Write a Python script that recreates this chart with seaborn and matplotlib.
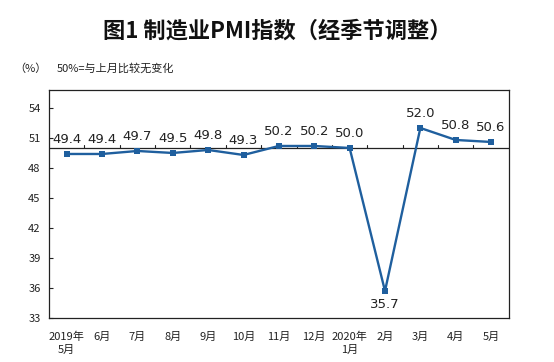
import matplotlib
matplotlib.use("Agg")
import matplotlib.pyplot as plt
import seaborn as sns
import pandas as pd

months = ["2019年\n5月", "6月", "7月", "8月", "9月", "10月", "11月", "12月",
          "2020年\n1月", "2月", "3月", "4月", "5月"]
pmi = [49.4, 49.4, 49.7, 49.5, 49.8, 49.3, 50.2, 50.2, 50.0, 35.7, 52.0, 50.8, 50.6]
yticks = [33, 36, 39, 42, 45, 48, 51, 54]

sns.set_theme(style="white")
plt.rcParams['font.family'] = ['Noto Sans CJK SC', 'DejaVu Sans']

df = pd.DataFrame({"idx": range(len(months)), "pmi": pmi})

fig = plt.figure(figsize=(5.54, 3.62), dpi=100)
ax = fig.add_axes([0.0884, 0.1215, 0.830, 0.630])
color = "#1f5f9e"
sns.lineplot(data=df, x="idx", y="pmi", ax=ax, color=color, marker="s",
             markersize=4, markeredgewidth=0, linewidth=1.7)

ax.set_xlim(-0.5, len(months) - 0.5)
ax.set_ylim(33, 55.8)
ax.set_yticks(yticks)
ax.set_yticklabels([str(v) for v in yticks], fontsize=8, color="#222222")
ax.set_xticks(range(len(months)))
ax.set_xticklabels(months, fontsize=8, color="#222222", linespacing=1.3)
ax.tick_params(axis="x", length=0, pad=10)
ax.tick_params(axis="y", direction="in", length=3, width=0.8, color="#222222", pad=6, left=True)
ax.set_xlabel("")
ax.set_ylabel("")
for s in ax.spines.values():
    s.set_color("#222222")
    s.set_linewidth(0.9)

ax.axhline(50, color="#222222", linewidth=0.9, zorder=1)
for b in range(1, len(months)):
    ax.plot([b - 0.5, b - 0.5], [50, 50.3], color="#222222", linewidth=0.8, zorder=1)

for i, v in enumerate(pmi):
    if v < 40:
        ax.annotate(f"{v:.1f}", (i, v), xytext=(0, -5), textcoords="offset points",
                    ha="center", va="top", fontsize=9.5, color="#222222",
                    family=["DejaVu Sans"])
    else:
        ax.annotate(f"{v:.1f}", (i, v), xytext=(0, 6), textcoords="offset points",
                    ha="center", va="bottom", fontsize=9.5, color="#222222",
                    family=["DejaVu Sans"])

fig.text(0.5, 0.915, "图1 制造业PMI指数（经季节调整）", ha="center", va="center",
         fontsize=16, fontweight="bold", color="#111111")
fig.text(0.025, 0.81, "（%）", ha="left", va="center", fontsize=8, color="#222222")
fig.text(0.103, 0.81, "50%=与上月比较无变化", ha="left", va="center", fontsize=8, color="#222222")

fig.savefig("out.png", dpi=100)
